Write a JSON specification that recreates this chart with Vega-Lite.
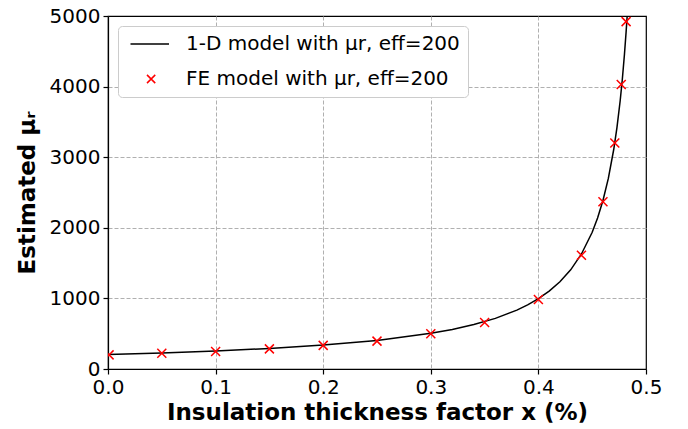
{
  "$schema": "https://vega.github.io/schema/vega-lite/v6.json",
  "width": 538,
  "height": 353,
  "autosize": {"type": "none"},
  "padding": {"left": 108, "top": 16, "right": 42, "bottom": 60},
  "background": "white",
  "config": {
    "font": "DejaVu Sans",
    "view": {"stroke": "black", "strokeWidth": 1.2},
    "axis": {
      "domainColor": "black",
      "domainWidth": 1.2,
      "tickColor": "black",
      "tickSize": 5,
      "tickWidth": 1.2,
      "labelColor": "black",
      "labelFontSize": 20,
      "labelFont": "DejaVu Sans",
      "labelPadding": 3,
      "titleColor": "black",
      "titleFontSize": 23,
      "titleFontWeight": "bold",
      "titleFont": "DejaVu Sans",
      "gridColor": "#b0b0b0",
      "gridDash": [4, 2],
      "gridWidth": 1
    }
  },
  "datasets": {
    "model": [
      {"x": 0.0, "y": 204},
      {"x": 0.05, "y": 226},
      {"x": 0.1, "y": 255},
      {"x": 0.15, "y": 291},
      {"x": 0.2, "y": 339},
      {"x": 0.25, "y": 405},
      {"x": 0.3, "y": 505},
      {"x": 0.32, "y": 561},
      {"x": 0.34, "y": 629},
      {"x": 0.36, "y": 717},
      {"x": 0.38, "y": 834},
      {"x": 0.39, "y": 908},
      {"x": 0.4, "y": 996},
      {"x": 0.41, "y": 1103},
      {"x": 0.42, "y": 1236},
      {"x": 0.43, "y": 1405},
      {"x": 0.44, "y": 1629},
      {"x": 0.45, "y": 1936},
      {"x": 0.455, "y": 2138},
      {"x": 0.46, "y": 2386},
      {"x": 0.465, "y": 2700},
      {"x": 0.47, "y": 3109},
      {"x": 0.473, "y": 3420},
      {"x": 0.476, "y": 3800},
      {"x": 0.478, "y": 4104},
      {"x": 0.48, "y": 4461},
      {"x": 0.4815, "y": 4772},
      {"x": 0.4825, "y": 5000}
    ],
    "fe": [
      {"x": 0.001, "y": 200},
      {"x": 0.05, "y": 222},
      {"x": 0.1, "y": 248},
      {"x": 0.15, "y": 285},
      {"x": 0.2, "y": 335},
      {"x": 0.25, "y": 395},
      {"x": 0.3, "y": 498},
      {"x": 0.35, "y": 658},
      {"x": 0.4, "y": 985},
      {"x": 0.44, "y": 1610},
      {"x": 0.46, "y": 2370},
      {"x": 0.471, "y": 3200},
      {"x": 0.477, "y": 4030},
      {"x": 0.4815, "y": 4920}
    ]
  },
  "encoding": {
    "x": {
      "field": "x",
      "type": "quantitative",
      "scale": {"domain": [0, 0.5], "nice": false, "zero": false},
      "axis": {
        "title": "Insulation thickness factor x (%)",
        "values": [0, 0.1, 0.2, 0.3, 0.4, 0.5],
        "format": ".1f",
        "labelFlush": false,
        "labelOverlap": false,
        "titlePadding": 4,
        "gridOpacity": {"condition": {"test": "datum.value >= 0.5", "value": 0}, "value": 1}
      }
    },
    "y": {
      "field": "y",
      "type": "quantitative",
      "scale": {"domain": [0, 5000], "nice": false},
      "axis": {
        "title": "Estimated μᵣ",
        "values": [0, 1000, 2000, 3000, 4000, 5000],
        "format": "d",
        "labelFlush": false,
        "labelOverlap": false,
        "titlePadding": 10,
        "gridOpacity": {"condition": {"test": "datum.value >= 5000", "value": 0}, "value": 1}
      }
    }
  },
  "layer": [
    {
      "data": {"name": "model"},
      "mark": {"type": "line", "strokeWidth": 1.5, "clip": true},
      "encoding": {
        "color": {
          "datum": "1-D model with μr, eff=200",
          "type": "nominal",
          "scale": {
            "domain": ["1-D model with μr, eff=200", "FE model with μr, eff=200"],
            "range": ["black", "red"]
          },
          "legend": {
            "title": null,
            "orient": "top-left",
            "offset": 10,
            "padding": 8,
            "fillColor": "white",
            "strokeColor": "#cccccc",
            "cornerRadius": 4,
            "labelFontSize": 20,
            "labelFont": "DejaVu Sans",
            "labelColor": "black",
            "labelLimit": 0,
            "symbolSize": 121,
            "labelOffset": 40,
            "rowPadding": 15,
            "encode": {
              "symbols": {
                "update": {
                  "shape": {"signal": "datum.index === 0 ? 'M-1,0L6,0' : 'M2,-0.75L3.5,0.75M3.5,-0.75L2,0.75'"},
                  "stroke": {"signal": "datum.index === 0 ? 'black' : 'red'"},
                  "fill": {"value": "transparent"},
                  "strokeWidth": {"value": 1.5},
                  "opacity": {"value": 1},
                  "size": {"value": 121}
                }
              }
            }
          }
        }
      }
    },
    {
      "data": {"name": "fe"},
      "mark": {
        "type": "point",
        "shape": "M-1,-1L1,1M1,-1L-1,1",
        "filled": false,
        "size": 81,
        "strokeWidth": 1.5,
        "opacity": 1,
        "clip": true
      },
      "encoding": {
        "color": {"datum": "FE model with μr, eff=200", "type": "nominal"}
      }
    }
  ]
}
